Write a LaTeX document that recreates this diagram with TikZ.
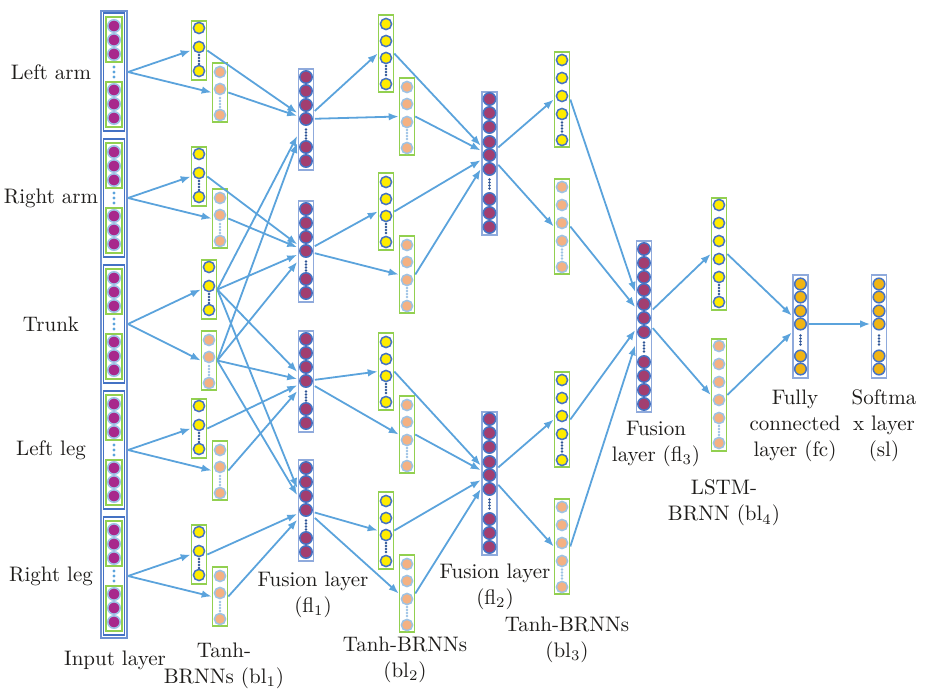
\documentclass[tikz,border=0pt]{standalone}
\usetikzlibrary{arrows.meta}

\definecolor{linkblue}{RGB}{91,163,220}
\definecolor{boxgreen}{RGB}{146,208,80}
\definecolor{ringblue}{RGB}{68,114,196}
\definecolor{ringlight}{RGB}{157,195,230}
\definecolor{fusframe}{RGB}{143,170,220}
\definecolor{frameblue}{RGB}{110,145,210}
\definecolor{unityellow}{RGB}{255,236,0}
\definecolor{unitorange}{RGB}{244,177,131}
\definecolor{unitplum}{RGB}{162,62,112}
\definecolor{unitmagenta}{RGB}{168,40,140}
\definecolor{unitgold}{RGB}{240,180,20}
\definecolor{dotdark}{RGB}{47,85,151}
\definecolor{labtext}{RGB}{30,28,26}

\newcommand{\unitcol}[7]{%
	\node[#1 box, minimum height=#5*0.5pt] (#2) at (#3,#4+#5/2) {};
	\foreach[count=\k] \p in {#6}
		\node[#1 unit] (#2-\k) at (#3,#4+\p) {};
	\foreach \q in {#7}
		\fill[#1 dot] (#3,#4+\q) circle (0.65pt);
}

\begin{document}
\begin{tikzpicture}[x=0.5pt, y=-0.5pt, >={Latex[length=5pt,width=3.8pt]},
		lab/.style={align=center, inner sep=0pt, text=labtext, font=\fontsize{10.5}{13}\selectfont},
		link/.style={->, draw=linkblue, line width=0.9pt},
		port/.style={rectangle, inner sep=0pt, minimum width=8.4pt, minimum height=60pt},
		inframe/.style={draw=frameblue, line width=1pt, fill=white, inner sep=0pt, minimum width=13pt, minimum height=313.5pt},
		ingroup/.style={draw=ringblue, line width=0.7pt, inner sep=0pt, minimum width=10.5pt, minimum height=59pt},
		inbox/.style={draw=boxgreen, line width=0.8pt},
		inunit/.style={circle, draw=ringlight, line width=0.8pt, fill=unitmagenta, inner sep=0pt, minimum size=6.2pt},
		yel box/.style={draw=boxgreen, line width=0.8pt, fill=white, inner sep=0pt, minimum width=7.5pt},
		yel unit/.style={circle, draw=ringblue, line width=0.75pt, fill=unityellow, inner sep=0pt, minimum size=5.6pt},
		yel dot/.style={fill=dotdark},
		ora box/.style={yel box},
		ora unit/.style={yel unit, draw=ringlight, fill=unitorange},
		ora dot/.style={fill=ringlight},
		fus box/.style={draw=fusframe, line width=0.9pt, fill=white, inner sep=0pt, minimum width=7.5pt},
		fus unit/.style={circle, draw=ringblue, line width=0.75pt, fill=unitplum, inner sep=0pt, minimum size=6.2pt},
		fus dot/.style={fill=dotdark},
		gold box/.style={fus box},
		gold unit/.style={fus unit, fill=unitgold, minimum size=5.8pt},
		gold dot/.style={fill=dotdark}]
	\useasboundingbox (0,0) rectangle (927,692);

	\node[inframe] (inlayer) at (114,324.5) {};
	\foreach[count=\i] \part in {Left arm,Right arm,Trunk,Left leg,Right leg} {
		\pgfmathsetmacro\yc{72+126*(\i-1)}
		\node[lab] (part-\i) at (51,\yc) {\part};
		\node[ingroup] (in-\i) at (114,\yc) {};
		\foreach[count=\h] \s in {-1,1} {
			\draw[inbox] (106,\yc+\s*10) rectangle (122,\yc+\s*55);
			\foreach[count=\r] \dy in {18,32,46}
				\node[inunit] (in-\i-\h-\r) at (114,\yc+\s*\dy) {};
		}
		\foreach \q in {-5,0,5}
			\fill[linkblue] (114,\yc+\q) circle (0.8pt);
	}

	\foreach \i/\ya/\yb/\oa/\ob in {1/199/-51/220/-9,2/199/-51/220/-9,3/209/-64/209/7,4/199/-51/220/-9,5/199/-51/220/-9} {
		\pgfmathsetmacro\yt{72+126*(\i-1)+\yb}
		\pgfmathsetmacro\ot{72+126*(\i-1)+\ob}
		\unitcol{yel}{y1-\i}{\ya}{\yt}{59}{7,26,50}{34,37,40,43}
		\unitcol{ora}{o1-\i}{\oa}{\ot}{59}{9,26,52}{35,38,41,44}
	}

	\foreach \i/\ty in {1/69,2/201,3/331,4/460} {
		\unitcol{fus}{f1-\i}{306}{\ty}{101}{8,22,36,50,78,92}{60.5,63.5,66.5,69.5}
	}

	\foreach \i/\ty in {1/15,2/173,3/333,4/492} {
		\unitcol{yel}{y2-\i}{386}{\ty}{77}{9,26,43,69}{51,54,57,60}
		\unitcol{ora}{o2-\i}{407}{\ty+63}{77}{9,26,44,70}{52,55,58,61}
	}

	\foreach \i/\ty in {a/92,b/412} {
		\unitcol{fus}{f2-\i}{489.5}{\ty}{143}{7,21,35,50,63,77,107,121,135}{87.5,90.5,93.5,96.5}
	}

	\foreach \i/\ty in {a/52,b/372} {
		\unitcol{yel}{y3-\i}{562}{\ty}{95}{8,26,44,62,88}{70.5,73.5,76.5,79.5}
		\unitcol{ora}{o3-\i}{562}{\ty+127}{95}{8,26,44,62,88}{70.5,73.5,76.5,79.5}
	}

	\unitcol{fus}{f3}{644}{241}{171}{8,22,36,49,63,77,91,121,135,149,163}{101.5,104.5,107.5,110.5}
	\unitcol{yel}{y4}{719}{198}{112}{7,25,43,61,79,104}{87,90,93,96}
	\unitcol{ora}{o4}{719}{339}{112}{7,25,43,61,79,104}{87,90,93,96}
	\unitcol{gold}{fc}{800.5}{275}{103}{9,22,36,49,81,94}{60.5,63.5,66.5,69.5}
	\unitcol{gold}{sl}{879}{275}{103}{9,22,36,49,81,94}{60.5,63.5,66.5,69.5}

	\foreach \i in {1,...,4}
		\node[port] (f1-\i-p) at (f1-\i-4) {};
	\foreach \i in {a,b}
		\node[port] (f2-\i-p) at (f2-\i-5) {};
	\node[port] (f3-p) at (f3-6) {};
	\node[port] (fc-p) at (fc-4) {};
	\node[port] (sl-p) at (sl-4) {};

	\foreach \i in {1,...,5} {
		\draw[link] (in-\i -| inlayer.east) -- (y1-\i.west);
		\draw[link] (in-\i -| inlayer.east) -- (o1-\i.west);
	}
	\foreach \i/\g in {1/1,1/3,2/2,2/3,3/3,3/4,4/3,4/5} {
		\draw[link] (y1-\g.east) -- (f1-\i-p);
		\draw[link] (o1-\g.east) -- (f1-\i-p);
	}
	\foreach \i in {1,...,4} {
		\draw[link] (f1-\i-p) -- (y2-\i.west);
		\draw[link] (f1-\i-p) -- (o2-\i.west);
	}
	\foreach \i/\g in {1/a,2/a,3/b,4/b} {
		\draw[link] (y2-\i.east) -- (f2-\g-p);
		\draw[link] (o2-\i.east) -- (f2-\g-p);
	}
	\foreach \g in {a,b} {
		\draw[link] (f2-\g-p) -- (y3-\g.west);
		\draw[link] (f2-\g-p) -- (o3-\g.west);
		\draw[link] (y3-\g.east) -- (f3-p);
		\draw[link] (o3-\g.east) -- (f3-p);
	}
	\draw[link] (f3-p) -- (y4.west);
	\draw[link] (f3-p) -- (o4.west);
	\draw[link] (y4.east) -- (fc-p);
	\draw[link] (o4.east) -- (fc-p);
	\draw[link] (fc-p) -- (sl-p);

	\node[lab] (inlab) at (115,660) {Input layer};
	\node[lab] (bl1lab) at (224,666) {Tanh-\\BRNNs (bl\textsubscript{1})};
	\node[lab] (fl1lab) at (313,595) {Fusion layer\\(fl\textsubscript{1})};
	\node[lab] (bl2lab) at (405,660) {Tanh-BRNNs\\(bl\textsubscript{2})};
	\node[lab] (fl2lab) at (495,587) {Fusion layer\\(fl\textsubscript{2})};
	\node[lab] (bl3lab) at (567,640) {Tanh-BRNNs\\(bl\textsubscript{3})};
	\node[lab] (fl3lab) at (656,444) {Fusion\\layer (fl\textsubscript{3})};
	\node[lab] (bl4lab) at (724,503) {LSTM-\\BRNN (bl\textsubscript{4})};
	\node[lab] (fclab) at (795,426) {Fully\\connected\\layer (fc)};
	\node[lab] (sllab) at (884,426) {Softma\\x layer\\(sl)};
\end{tikzpicture}
\end{document}
